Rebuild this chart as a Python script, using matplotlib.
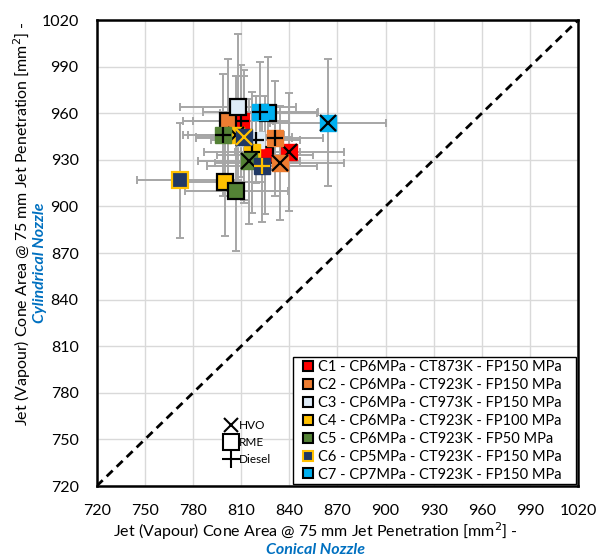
import matplotlib
matplotlib.use('Agg')
import matplotlib.pyplot as plt
from matplotlib.lines import Line2D
from matplotlib.patches import Rectangle

plt.rcParams['font.family'] = ['Lato', 'DejaVu Sans']

# --- data ---
conditions = ['C1 - CP6MPa - CT873K - FP150 MPa',
              'C2 - CP6MPa - CT923K - FP150 MPa',
              'C3 - CP6MPa - CT973K - FP150 MPa',
              'C4 - CP6MPa - CT923K - FP100 MPa',
              'C5 - CP6MPa - CT923K - FP50 MPa',
              'C6 - CP5MPa - CT923K - FP150 MPa',
              'C7 - CP7MPa - CT923K - FP150 MPa']
fill_colors = ['#FF0000', '#ED7D31', '#DEEBF7', '#FFC000', '#548235', '#203864', '#00B0F0']
edge_colors = ['black', 'black', 'black', 'black', 'black', '#FFC000', 'black']

hvo_x = [840, 834, 812, 807, 815, 812, 864]
hvo_y = [935, 928, 944, 946, 929, 945, 954]
hvo_xerr = [34, 40, 30, 30, 32, 30, 36]
hvo_yerr = [38, 37, 40, 38, 40, 43, 41]

rme_x = [825, 802, 808, 800, 807, 772, 827]
rme_y = [933, 955, 964, 916, 910, 917, 960]
rme_xerr = [30, 28, 36, 25, 32, 27, 30]
rme_yerr = [38, 40, 47, 35, 39, 37, 36]

diesel_x = [810, 831, 819, 817, 799, 823, 822]
diesel_y = [955, 944, 943, 935, 946, 926, 961]
diesel_xerr = [30, 30, 28, 30, 25, 34, 36]
diesel_yerr = [36, 37, 28, 39, 39, 36, 32]

ticks = [720, 750, 780, 810, 840, 870, 900, 930, 960, 990, 1020]

# --- plotting ---
fig = plt.figure(figsize=(5.98, 5.58), dpi=100)
ax = fig.add_axes([0.1617, 0.129, 0.805, 0.835])

ax.set_xlim(720, 1020)
ax.set_ylim(720, 1020)
ax.set_xticks(ticks)
ax.set_yticks(ticks)
ax.grid(True, color='#D9D9D9', lw=1)
ax.set_axisbelow(True)
ax.tick_params(length=0, labelsize=11.5, pad=13)
for s in ax.spines.values():
    s.set_linewidth(1.8)
    s.set_color('black')

ax.plot([720, 1020], [720, 1020], ls=(0, (3, 2)), color='black', lw=2, zorder=2)

fuels = [(hvo_x, hvo_y, hvo_xerr, hvo_yerr),
         (rme_x, rme_y, rme_xerr, rme_yerr),
         (diesel_x, diesel_y, diesel_xerr, diesel_yerr)]

# error bars
for xs, ys, xe, ye in fuels:
    ax.errorbar(xs, ys, xerr=xe, yerr=ye, fmt='none', ecolor='#A6A6A6',
                elinewidth=1.4, capsize=3, capthick=1.4, zorder=3)

# markers: condition by condition
z = 4
for i in range(len(conditions)):
    fc, ec = fill_colors[i], edge_colors[i]
    ax.plot(hvo_x[i], hvo_y[i], marker='s', ms=11, mfc=fc, mec=fc, ls='none', zorder=z)
    ax.plot(hvo_x[i], hvo_y[i], marker='x', ms=11, mew=1.6, color=ec, ls='none', zorder=z)
    z += 1
    ax.plot(rme_x[i], rme_y[i], marker='s', ms=11, mfc=fc, mec=ec, mew=1.6, ls='none', zorder=z)
    z += 1
    ax.plot(diesel_x[i], diesel_y[i], marker='s', ms=11, mfc=fc, mec=fc, ls='none', zorder=z)
    ax.plot(diesel_x[i], diesel_y[i], marker='+', ms=11, mew=1.6, color=ec, ls='none', zorder=z)
    z += 1

# condition legend (box drawn separately to get the wider Excel-style frame)
ax.add_patch(Rectangle((0.407, 0.004), 0.5895, 0.272, transform=ax.transAxes,
                       facecolor='white', edgecolor='black', lw=1, zorder=49))
handles = [Line2D([], [], marker='s', ls='none', ms=7, mfc=fill_colors[i],
                  mec=edge_colors[i], mew=1.5) for i in range(len(conditions))]
leg = ax.legend(handles, conditions, loc='center right',
                bbox_to_anchor=(0.966, 0.14), fontsize=10.5, frameon=False,
                borderaxespad=0, handletextpad=0.15, labelspacing=0.27,
                handlelength=1.0, borderpad=0)
leg.set_zorder(50)
ax.add_artist(leg)

# fuel legend
fuel_handles = [Line2D([], [], marker='x', ls='none', ms=10, mew=1.5, color='black'),
                Line2D([], [], marker='s', ls='none', ms=11, mew=1.5, mfc='white', mec='black'),
                Line2D([], [], marker='+', ls='none', ms=13, mew=1.5, color='black')]
leg2 = ax.legend(fuel_handles, ['HVO', 'RME', 'Diesel'], loc='center left',
                 bbox_to_anchor=(0.251, 0.093), frameon=False, fontsize=8.5,
                 handletextpad=0.1, labelspacing=0.5, handlelength=1.2, borderpad=0)

# axis titles
fig.text(0.527, 0.048, 'Jet (Vapour) Cone Area @ 75 mm Jet Penetration [mm$^2$] -',
         ha='center', va='center', fontsize=11.5)
fig.text(0.527, 0.0135, 'Conical Nozzle', ha='center', va='center', fontsize=11.5,
         color='#0070C0', fontweight='bold', fontstyle='italic')
fig.text(0.037, 0.5986, 'Jet (Vapour) Cone Area @ 75 mm Jet Penetration [mm$^2$] -',
         ha='center', va='center', rotation=90, fontsize=11.5)
fig.text(0.067, 0.530, 'Cylindrical Nozzle', ha='center', va='center', rotation=90,
         fontsize=11.5, color='#0070C0', fontweight='bold', fontstyle='italic')

fig.savefig('out.png', dpi=100)
